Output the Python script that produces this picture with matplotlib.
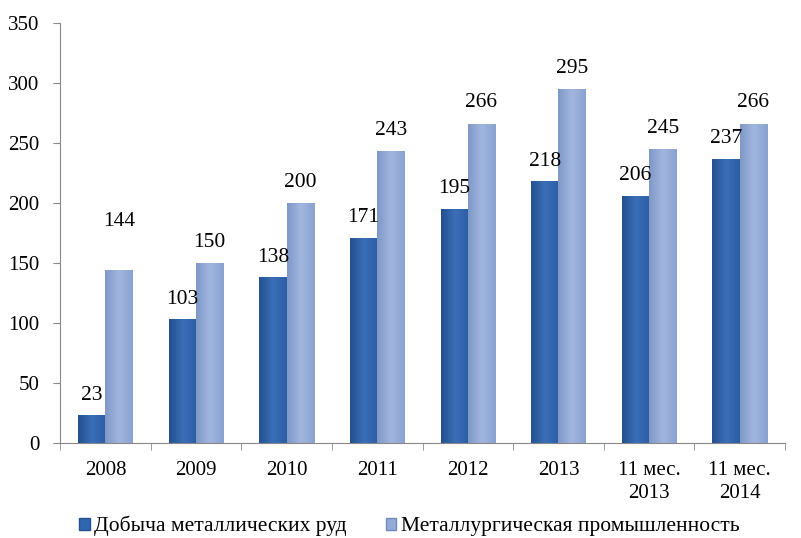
import numpy as np
import matplotlib.pyplot as plt
from matplotlib.patches import Patch
from matplotlib.colors import LinearSegmentedColormap

FONT = 'Liberation Serif'
plt.rcParams['font.family'] = [FONT, 'DejaVu Serif']

# data
categories = ['2008', '2009', '2010', '2011', '2012', '2013', '11 мес.\n2013', '11 мес.\n2014']
mining = [23, 103, 138, 171, 195, 218, 206, 237]
metallurgy = [144, 150, 200, 243, 266, 295, 245, 266]
series_names = ['Добыча металлических руд', 'Металлургическая промышленность']

dark_col = '#3166B0'
light_col = '#93ABD6'
dark_cmap = LinearSegmentedColormap.from_list('d', ['#24508E', '#3A6EB8', '#2C5EA4'])
light_cmap = LinearSegmentedColormap.from_list('l', ['#7F98C8', '#A2B7DF', '#8AA2D0'])

fig = plt.figure(figsize=(8.01, 5.38), dpi=100)
ax = fig.add_axes([0.075, 0.1766, 0.905, 0.7806])

x = np.arange(len(categories))
w = 0.3
bars1 = ax.bar(x - w/2, mining, w, color=dark_col, edgecolor='none')
bars2 = ax.bar(x + w/2, metallurgy, w, color=light_col, edgecolor='none')

# horizontal shading inside every bar
grad = np.linspace(0, 1, 64).reshape(1, -1)
for bars, cmap in [(bars1, dark_cmap), (bars2, light_cmap)]:
    for b in bars:
        x0, y0 = b.get_x(), b.get_y()
        im = ax.imshow(grad, cmap=cmap, aspect='auto', interpolation='bicubic',
                       extent=[x0, x0 + b.get_width(), y0, y0 + b.get_height()],
                       zorder=b.get_zorder())
        im.set_clip_path(b)

for i, v in enumerate(mining):
    ax.text(x[i] - w/2, v + 9, str(v), ha='center', va='bottom', fontsize=15.5, family=FONT)
for i, v in enumerate(metallurgy):
    off = 33 if i == 0 else 9.5
    ax.text(x[i] + w/2, v + off, str(v), ha='center', va='bottom', fontsize=15.5, family=FONT)

ax.set_xlim(-0.5, len(categories) - 0.5)
ax.set_ylim(0, 350)
ax.set_yticks(np.arange(0, 351, 50))
ax.set_yticklabels([str(t) for t in range(0, 351, 50)], family=FONT)
ax.set_xticks(x)
ax.set_xticklabels(categories, linespacing=1.25, family=FONT, va='top')
ax.set_xticks(np.arange(-0.5, len(categories), 1), minor=True)
ax.tick_params(axis='x', which='major', length=0, pad=13, labelsize=15)
ax.tick_params(axis='x', which='minor', length=5, color='#888888')
ax.tick_params(axis='y', length=5, color='#888888', labelsize=15, pad=10)

for s in ['top', 'right']:
    ax.spines[s].set_visible(False)
for s in ['left', 'bottom']:
    ax.spines[s].set_color('#888888')

handles = [Patch(facecolor=dark_col, edgecolor='#24508E'),
           Patch(facecolor=light_col, edgecolor='#7189B8')]
fig.legend(handles, series_names, loc='center', bbox_to_anchor=(0.511, 0.022),
           ncol=2, frameon=False, handlelength=0.5, handleheight=0.5,
           handletextpad=0.2, columnspacing=1.8, borderpad=0.1,
           prop={'family': FONT, 'size': 15.5})

fig.savefig('out.png', dpi=100)
